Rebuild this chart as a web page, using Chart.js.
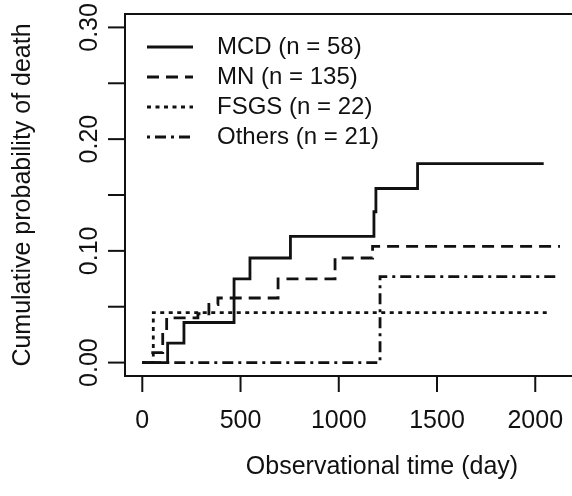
<!DOCTYPE html>
<html>
<head>
<meta charset="utf-8">
<script src="https://cdn.jsdelivr.net/npm/chart.js@4.4.1/dist/chart.umd.min.js"></script>
<style>
  html, body { margin: 0; padding: 0; background: #fff; overflow: hidden; }
  #wrap { position: relative; width: 572px; height: 496px; }
</style>
</head>
<body>
<div id="wrap"><canvas id="km-chart"></canvas></div>
<script>
const seriesLabels = ["MCD (n = 58)", "MN (n = 135)", "FSGS (n = 22)", "Others (n = 21)"];

const mcdDays = [0, 129, 212, 467, 548, 754, 1179, 1189, 1401, 2043];
const mcdProb = [0, 0.0174, 0.0359, 0.075, 0.0936, 0.113, 0.135, 0.1558, 0.178, 0.178];

const mnDays = [0, 53, 104, 124, 283, 339, 385, 691, 981, 1172, 2126];
const mnProb = [0, 0.009, 0.028, 0.040, 0.0437, 0.052, 0.0578, 0.075, 0.0936, 0.104, 0.104];

const fsgsDays = [0, 56, 2076];
const fsgsProb = [0, 0.0448, 0.0448];

const othersDays = [0, 1210, 2119];
const othersProb = [0, 0.077, 0.077];

const xTicks = [0, 500, 1000, 1500, 2000];
const yTicks = [0, 0.05, 0.1, 0.15, 0.2, 0.25, 0.3];
const yTickLabels = ["0.00", "", "0.10", "", "0.20", "", "0.30"];

const xTitle = "Observational time (day)";
const yTitle = "Cumulative probability of death";

const FONT = '"Liberation Sans", Arial, Helvetica, sans-serif';
const INK = "#111";

function points(days, probs) {
  return days.map((d, i) => ({ x: d, y: probs[i] }));
}

function stepSet(label, days, probs, dash) {
  return {
    label: label,
    data: points(days, probs),
    borderColor: INK,
    backgroundColor: INK,
    borderWidth: 2.8,
    borderDash: dash,
    pointRadius: 0,
    stepped: true,
    fill: false,
  };
}

// R style box, ticks, rotated y labels and legend
const rAxes = {
  id: "rAxes",
  afterDraw(chart) {
    const { ctx, chartArea: a, scales: { x, y } } = chart;
    ctx.save();
    ctx.strokeStyle = INK;
    ctx.fillStyle = INK;
    ctx.lineWidth = 2;
    ctx.setLineDash([]);

    // box, right side runs off the picture
    ctx.beginPath();
    ctx.moveTo(a.right + 20, a.top);
    ctx.lineTo(a.left, a.top);
    ctx.lineTo(a.left, a.bottom);
    ctx.lineTo(a.right + 20, a.bottom);
    ctx.stroke();

    ctx.font = "25px " + FONT;
    ctx.textAlign = "center";
    ctx.textBaseline = "alphabetic";
    xTicks.forEach((v) => {
      const px = x.getPixelForValue(v);
      ctx.beginPath();
      ctx.moveTo(px, a.bottom);
      ctx.lineTo(px, a.bottom + 16);
      ctx.stroke();
      ctx.fillText(String(v), px, a.bottom + 52);
    });
    ctx.fillText(xTitle, 382, a.bottom + 98);

    yTicks.forEach((v, i) => {
      const py = y.getPixelForValue(v);
      ctx.beginPath();
      ctx.moveTo(a.left - 17, py);
      ctx.lineTo(a.left, py);
      ctx.stroke();
      if (yTickLabels[i]) {
        ctx.save();
        ctx.translate(a.left - 28, py);
        ctx.rotate(-Math.PI / 2);
        ctx.fillText(yTickLabels[i], 0, 0);
        ctx.restore();
      }
    });
    ctx.save();
    ctx.translate(30, (a.top + a.bottom) / 2);
    ctx.rotate(-Math.PI / 2);
    ctx.fillText(yTitle, 0, 0);
    ctx.restore();

    // legend
    ctx.font = "24px " + FONT;
    ctx.textAlign = "left";
    ctx.textBaseline = "middle";
    chart.data.datasets.forEach((ds, i) => {
      const ly = a.top + 33 + i * 30;
      ctx.lineWidth = ds.borderWidth;
      ctx.setLineDash(ds.borderDash || []);
      ctx.beginPath();
      ctx.moveTo(a.left + 22, ly);
      ctx.lineTo(a.left + 68, ly);
      ctx.stroke();
      ctx.setLineDash([]);
      ctx.fillText(ds.label, a.left + 92, ly);
    });
    ctx.restore();
  },
};

new Chart(document.getElementById("km-chart"), {
  type: "line",
  data: {
    datasets: [
      stepSet(seriesLabels[0], mcdDays, mcdProb, []),
      stepSet(seriesLabels[1], mnDays, mnProb, [12, 7]),
      stepSet(seriesLabels[2], fsgsDays, fsgsProb, [4, 4.5]),
      stepSet(seriesLabels[3], othersDays, othersProb, [3, 5, 11, 5]),
    ],
  },
  options: {
    responsive: true,
    maintainAspectRatio: false,
    animation: false,
    devicePixelRatio: 1,
    layout: {
      padding: { left: 125, top: 14, right: 0, bottom: 120 },
    },
    plugins: {
      legend: { display: false },
      tooltip: { enabled: false },
    },
    scales: {
      x: {
        type: "linear",
        display: false,
        min: -88,
        max: 2187,
      },
      y: {
        type: "linear",
        display: false,
        min: -0.012,
        max: 0.312,
      },
    },
  },
  plugins: [rAxes],
});
</script>
</body>
</html>
